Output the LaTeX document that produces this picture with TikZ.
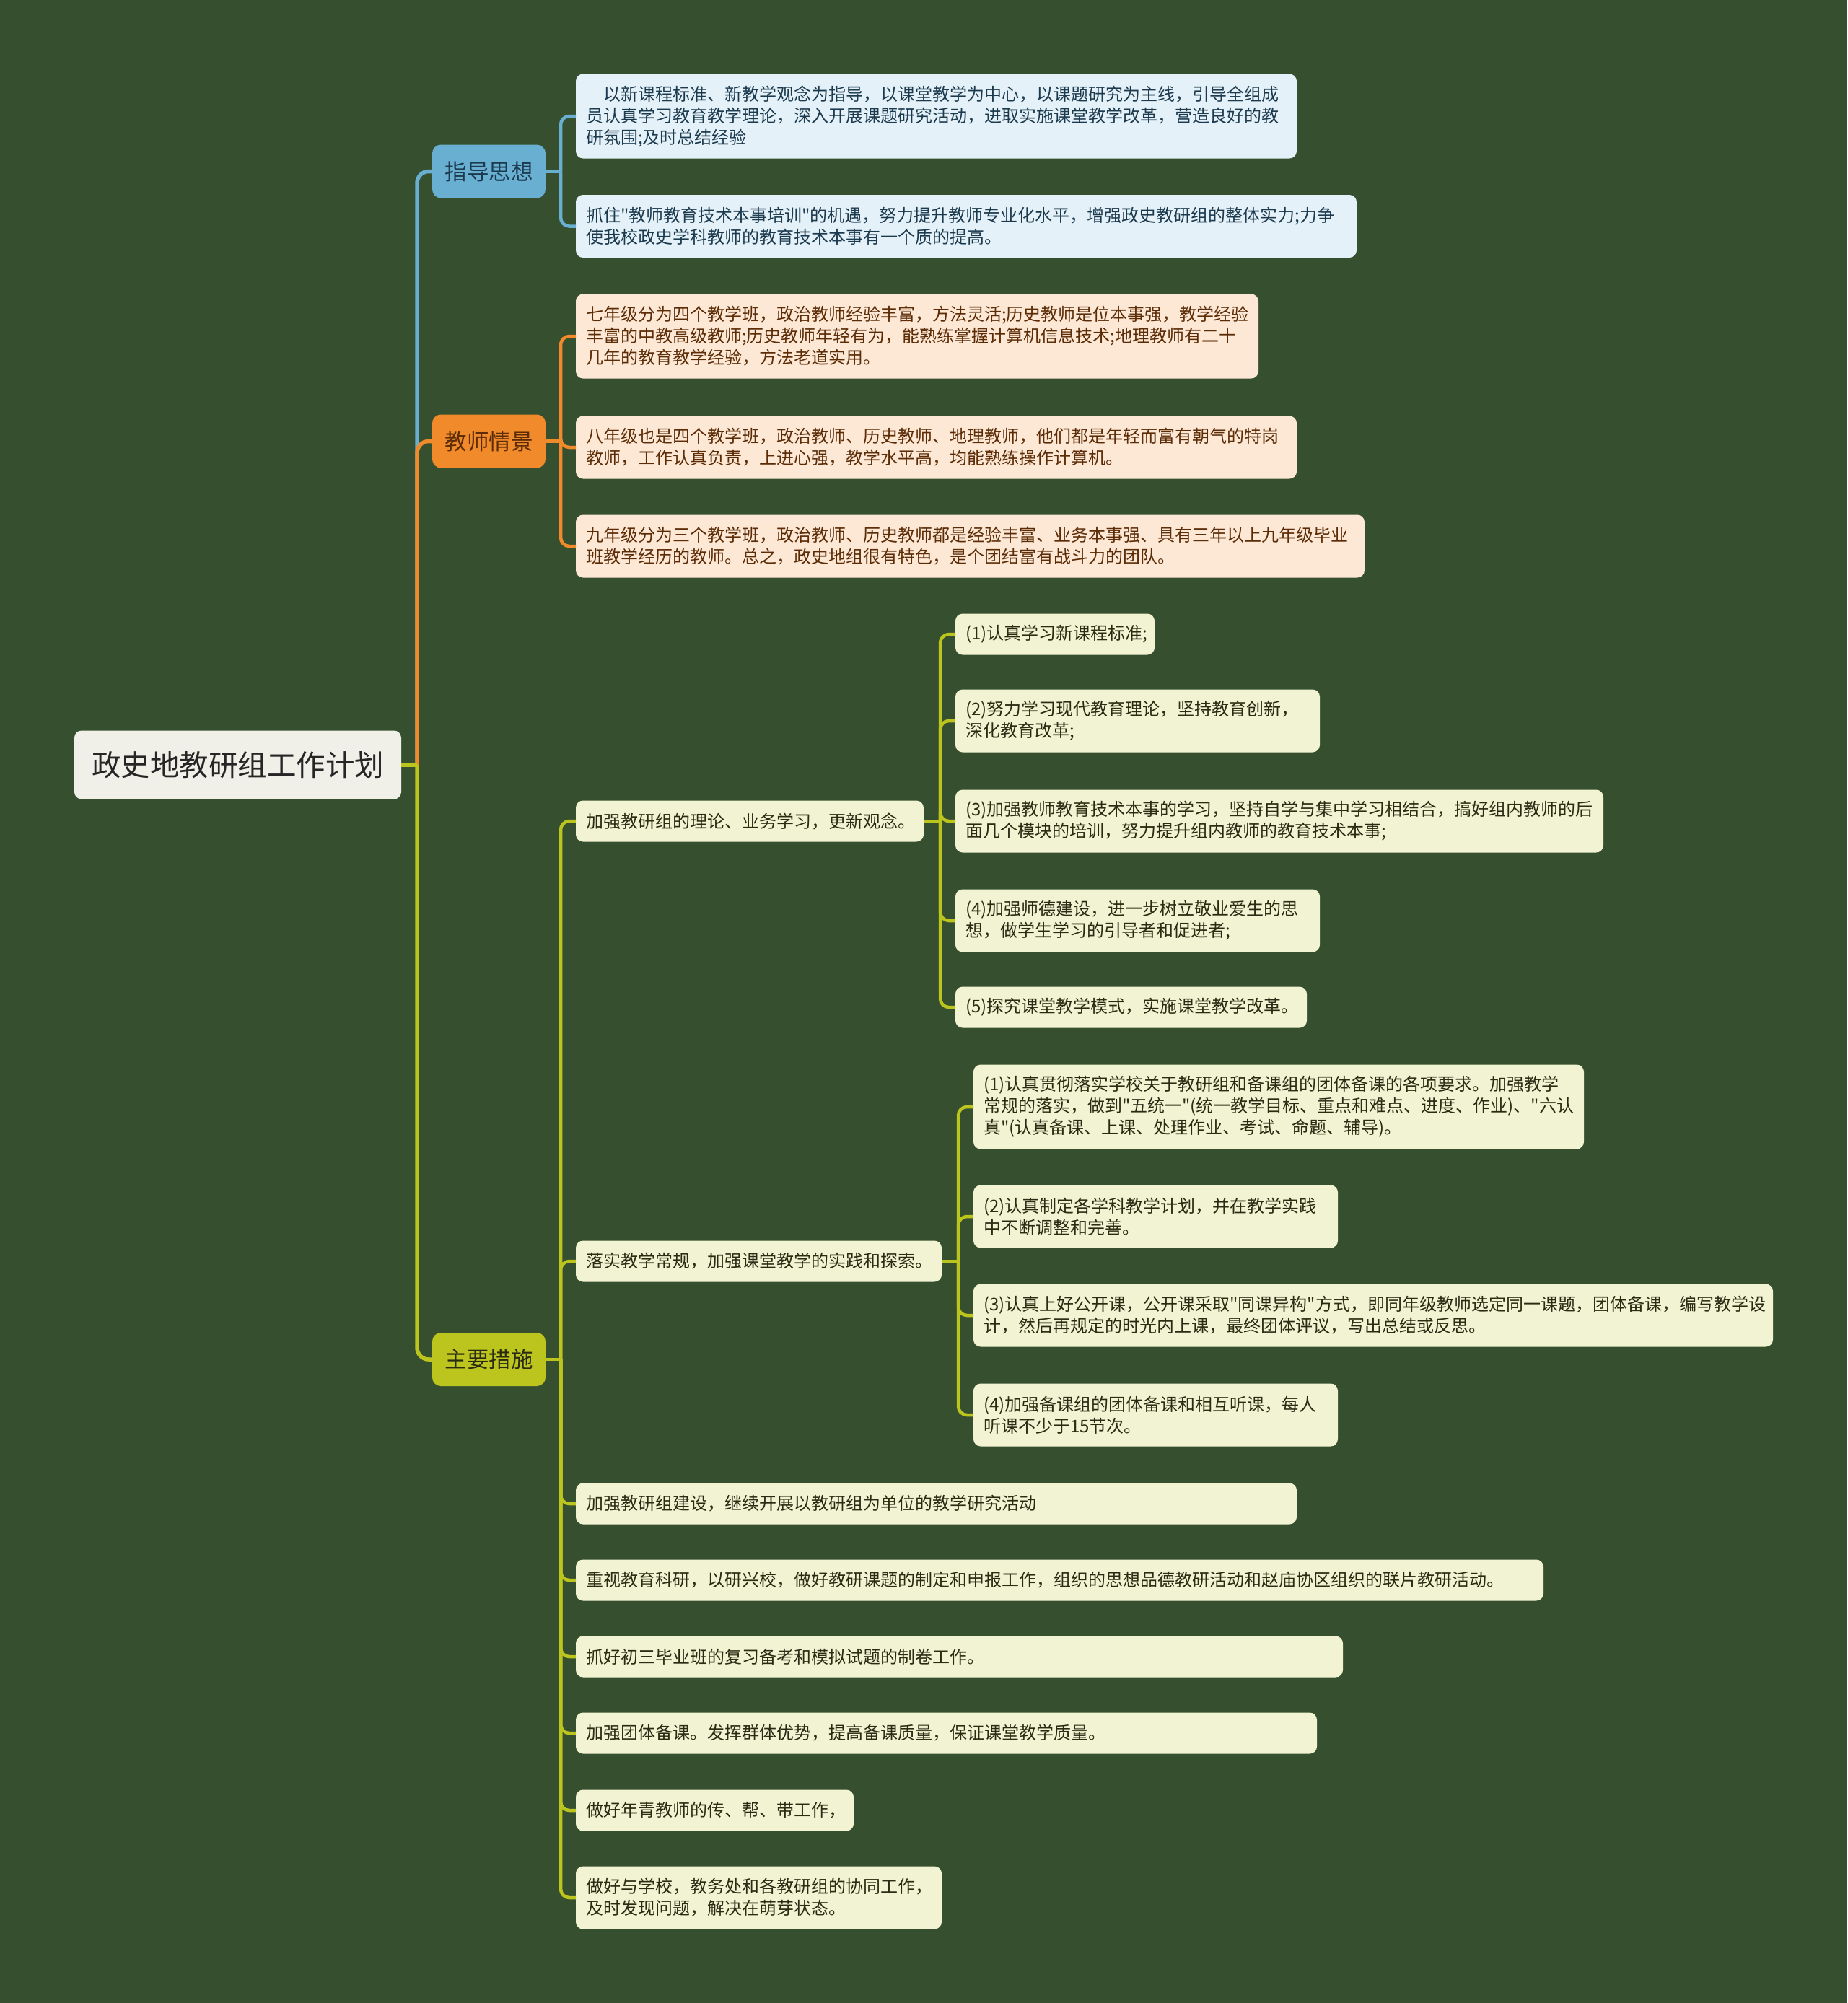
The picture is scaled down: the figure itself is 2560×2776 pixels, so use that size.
\documentclass[tikz,border=0pt]{standalone}
\usepackage{fontspec}
\setmainfont{Noto Sans CJK SC}[Ligatures=TeXOff]
\usetikzlibrary{calc,positioning}

\definecolor{bg}{HTML}{36502F}
\definecolor{rootfill}{HTML}{F0EFE8}
\definecolor{cblue}{HTML}{69AFD1}
\definecolor{corange}{HTML}{F08A2B}
\definecolor{cgreen}{HTML}{BCC51D}
\definecolor{lblue}{HTML}{E4F1F8}
\definecolor{lorange}{HTML}{FDE7D5}
\definecolor{lgreen}{HTML}{F2F3D3}
\definecolor{tblue}{HTML}{1C3A4E}
\definecolor{torange}{HTML}{5B2C06}
\definecolor{tgreen}{HTML}{2B2B14}

\tikzset{
  rootbox/.style={fill=rootfill, text=black!85, rounded corners=10pt,
    font=\fontsize{40.5}{48}\selectfont, minimum width=453pt,
    minimum height=95pt, inner sep=0pt, outer sep=0pt},
  branchbox/.style={fill=#1, rounded corners=12pt,
    font=\fontsize{30.5}{36}\selectfont, minimum width=157pt,
    minimum height=74pt, inner sep=0pt, outer sep=0pt},
  leaf/.style={rounded corners=10pt, align=left, anchor=west,
    inner xsep=14pt, inner ysep=0pt, outer sep=0pt,
    font=\fontsize{24}{30}\selectfont},
  pbox/.style={leaf, fill=lblue, text=tblue, text width=#1},
  tbox/.style={leaf, fill=lorange, text=torange, text width=#1},
  mbox/.style={leaf, fill=lgreen, text=tgreen, text width=#1},
  oneline/.style={minimum height=57pt},
  twoline/.style={minimum height=87pt},
  threeline/.style={minimum height=117pt},
  trunk/.style={line width=5.5pt, rounded corners=16pt},
  conn/.style={line width=4.5pt, rounded corners=12pt},
}

\begin{document}
\begin{tikzpicture}[x=1pt,y=-1pt]
    \fill[bg] (0,0) rectangle (2560,2776);
    \useasboundingbox (0,0) rectangle (2560,2776);

    \node[rootbox] (root) at (329.5,1060) {政史地教研组工作计划};

    \node[branchbox=cblue, text=tblue] (zd) at (677.5,237.5) {指导思想};
    \node[branchbox=corange, text=torange] (js) at (677.5,611.5) {教师情景};
    \node[branchbox=cgreen, text=tgreen] (cs) at (677.5,1884) {主要措施};

    % 指导思想
    \node[pbox=971pt, threeline] (p1) at (798,161) {　以新课程标准、新教学观念为指导，以课堂教学为中心，以课题研究为主线，引导全组成\\员认真学习教育教学理论，深入开展课题研究活动，进取实施课堂教学改革，营造良好的教\\研氛围;及时总结经验};
    \node[pbox=1054pt, twoline] (p2) at (798,313.5) {抓住"教师教育技术本事培训"的机遇，努力提升教师专业化水平，增强政史教研组的整体实力;力争\\使我校政史学科教师的教育技术本事有一个质的提高。};

    % 教师情景
    \node[tbox=918pt, threeline] (t1) at (798,466) {七年级分为四个教学班，政治教师经验丰富，方法灵活;历史教师是位本事强，教学经验\\丰富的中教高级教师;历史教师年轻有为，能熟练掌握计算机信息技术;地理教师有二十\\几年的教育教学经验，方法老道实用。};
    \node[tbox=971pt, twoline] (t2) at (798,620) {八年级也是四个教学班，政治教师、历史教师、地理教师，他们都是年轻而富有朝气的特岗\\教师，工作认真负责，上进心强，教学水平高，均能熟练操作计算机。};
    \node[tbox=1065pt, twoline] (t3) at (798,757) {九年级分为三个教学班，政治教师、历史教师都是经验丰富、业务本事强、具有三年以上九年级毕业\\班教学经历的教师。总之，政史地组很有特色，是个团结富有战斗力的团队。};

    % 主要措施
    \node[mbox=454pt, oneline] (m1) at (798,1138) {加强教研组的理论、业务学习，更新观念。};
    \node[mbox=479pt, oneline] (m2) at (798,1748) {落实教学常规，加强课堂教学的实践和探索。};
    \node[mbox=971pt, oneline] (m3) at (798,2084) {加强教研组建设，继续开展以教研组为单位的教学研究活动};
    \node[mbox=1313pt, oneline] (m4) at (798,2190) {重视教育科研，以研兴校，做好教研课题的制定和申报工作，组织的思想品德教研活动和赵庙协区组织的联片教研活动。};
    \node[mbox=1035pt, oneline] (m5) at (798,2296) {抓好初三毕业班的复习备考和模拟试题的制卷工作。};
    \node[mbox=999pt, oneline] (m6) at (798,2402) {加强团体备课。发挥群体优势，提高备课质量，保证课堂教学质量。};
    \node[mbox=357pt, oneline] (m7) at (798,2509) {做好年青教师的传、帮、带工作，};
    \node[mbox=479pt, twoline] (m8) at (798,2630) {做好与学校，教务处和各教研组的协同工作，\\及时发现问题，解决在萌芽状态。};

    \node[mbox=248pt, oneline] (a1) at (1324,879) {(1)认真学习新课程标准;};
    \node[mbox=477pt, twoline] (a2) at (1324,999) {(2)努力学习现代教育理论，坚持教育创新，\\深化教育改革;};
    \node[mbox=870pt, twoline] (a3) at (1324,1138) {(3)加强教师教育技术本事的学习，坚持自学与集中学习相结合，搞好组内教师的后\\面几个模块的培训，努力提升组内教师的教育技术本事;};
    \node[mbox=477pt, twoline] (a4) at (1324,1276) {(4)加强师德建设，进一步树立敬业爱生的思\\想，做学生学习的引导者和促进者;};
    \node[mbox=459pt, oneline] (a5) at (1324,1396) {(5)探究课堂教学模式，实施课堂教学改革。};

    \node[mbox=818pt, threeline] (b1) at (1349,1534) {(1)认真贯彻落实学校关于教研组和备课组的团体备课的各项要求。加强教学\\常规的落实，做到"五统一"(统一教学目标、重点和难点、进度、作业)、"六认\\真"(认真备课、上课、处理作业、考试、命题、辅导)。};
    \node[mbox=477pt, twoline] (b2) at (1349,1686) {(2)认真制定各学科教学计划，并在教学实践\\中不断调整和完善。};
    \node[mbox=1080pt, twoline] (b3) at (1349,1823) {(3)认真上好公开课，公开课采取"同课异构"方式，即同年级教师选定同一课题，团体备课，编写教学设\\计，然后再规定的时光内上课，最终团体评议，写出总结或反思。};
    \node[mbox=477pt, twoline] (b4) at (1349,1961) {(4)加强备课组的团体备课和相互听课，每人\\听课不少于15节次。};

    % 连线
    \coordinate (t0) at ([xshift=22pt]root.east);
    \draw[trunk, cblue] (t0) |- (zd.west);
    \draw[trunk, corange] (t0) |- (js.west);
    \draw[trunk, cgreen] (t0) |- (cs.west);
    \draw[trunk, cgreen] (root.east) -- (t0);

    \coordinate (jzd) at ([xshift=21pt]zd.east);
    \coordinate (jjs) at ([xshift=21pt]js.east);
    \coordinate (jcs) at ([xshift=21pt]cs.east);
    \coordinate (jm1) at ([xshift=23pt]m1.east);
    \coordinate (jm2) at ([xshift=23pt]m2.east);

    \draw[conn, cblue] (zd.east) -- (jzd);
    \foreach \n in {p1,p2}
        \draw[conn, cblue] (jzd) |- (\n.west);
    \draw[conn, corange] (js.east) -- (jjs);
    \foreach \n in {t1,t2,t3}
        \draw[conn, corange] (jjs) |- (\n.west);
    \draw[conn, cgreen] (cs.east) -- (jcs);
    \foreach \n in {m1,m2,m3,m4,m5,m6,m7,m8}
        \draw[conn, cgreen] (jcs) |- (\n.west);
    \draw[conn, cgreen] (m1.east) -- (jm1);
    \foreach \n in {a1,a2,a3,a4,a5}
        \draw[conn, cgreen] (jm1) |- (\n.west);
    \draw[conn, cgreen] (m2.east) -- (jm2);
    \foreach \n in {b1,b2,b3,b4}
        \draw[conn, cgreen] (jm2) |- (\n.west);
\end{tikzpicture}
\end{document}
